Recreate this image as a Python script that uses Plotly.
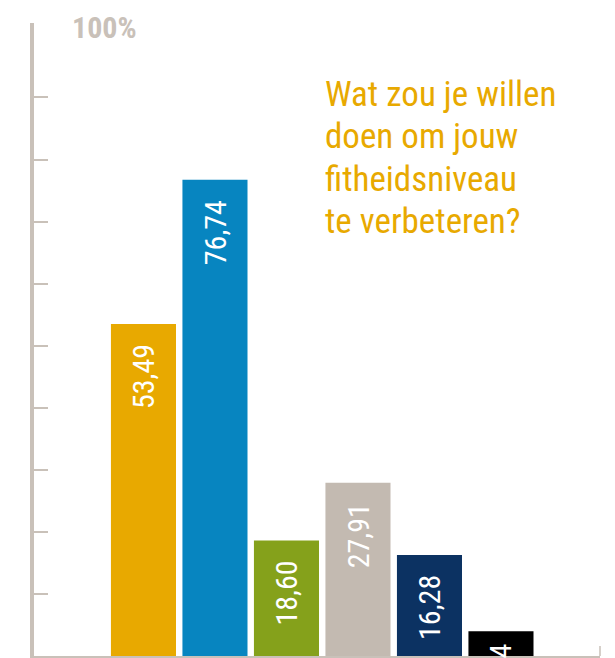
import plotly.graph_objects as go

# ---- data ----
categories = ["1", "2", "3", "4", "5", "6"]
values = [53.49, 76.74, 18.60, 27.91, 16.28, 4]
labels = ["53,49", "76,74", "18,60", "27,91", "16,28", "4"]
colors = ["#e8a900", "#0785c0", "#85a11b", "#c3bab1", "#0c3262", "#000000"]
tick_values = [10, 20, 30, 40, 50, 60, 70, 80, 90]
top_label = "100%"
title_lines = ["Wat zou je willen", "doen om jouw", "fitheidsniveau", "te verbeteren?"]

Y_MAX = 102.0
GREY = "#c9c1b9"
NARROW = "Roboto Condensed, DejaVu Sans Condensed, sans-serif"

OFF = 8  # page body margin
W, H = 615 - OFF, 658 - OFF
L, R, T, B = 34 - OFF, 15, 23 - OFF, 2
plot_h = H - T - B
plot_w = W - L - R
px_per_unit = plot_h / Y_MAX


def py(px):
    # px given in screenshot coordinates
    return (H + OFF - B - px) / plot_h


def px_x(px):
    return (px - 34) / plot_w


fig = go.Figure()
fig.add_trace(go.Bar(
    x=categories, y=values, marker=dict(color=colors, line=dict(width=0)),
    hoverinfo="skip", showlegend=False,
))

annotations = []
for i, (v, lab) in enumerate(zip(values, labels)):
    annotations.append(dict(
        x=i, y=v, xref="x", yref="y", text=lab, showarrow=False,
        textangle=-90, yanchor="top", xanchor="center",
        yshift=-min(18, 0.4 * v * px_per_unit),
        font=dict(family=NARROW, size=30, color="white"),
    ))

annotations.append(dict(
    x=0.064, y=Y_MAX, xref="paper", yref="y", text="<b>" + top_label + "</b>",
    showarrow=False, xanchor="left", yanchor="middle", yshift=-4,
    font=dict(family=NARROW, size=30, color=GREY),
))

baselines = [107, 149.5, 192, 234.5]
for line, bl in zip(title_lines, baselines):
    annotations.append(dict(
        x=px_x(323), y=py(bl - 13), xref="paper", yref="paper",
        text=line, showarrow=False, xanchor="left", yanchor="middle",
        font=dict(family=NARROW, size=35, color="#e8a900"),
    ))

fig.update_layout(
    width=W, height=H,
    margin=dict(l=L, r=R, t=T, b=B, pad=0),
    paper_bgcolor="white", plot_bgcolor="white",
    bargap=0.09,
    annotations=annotations,
    xaxis=dict(
        type="category", range=[-1.531, 6.385], showgrid=False, zeroline=False,
        showticklabels=False, ticks="", showline=True, linecolor=GREY, linewidth=1.5,
        fixedrange=True,
    ),
    yaxis=dict(
        range=[0, Y_MAX], showgrid=False, zeroline=False, showticklabels=False,
        tickvals=tick_values + [Y_MAX], ticks="inside", ticklen=14, tickwidth=1.5,
        tickcolor=GREY, showline=True, linecolor=GREY, linewidth=4, fixedrange=True,
    ),
    shapes=[dict(
        type="line", xref="paper", yref="paper", x0=1, x1=1, y0=0, y1=10 / plot_h,
        line=dict(color=GREY, width=1.5),
    )],
)

fig.write_html("out.html")
